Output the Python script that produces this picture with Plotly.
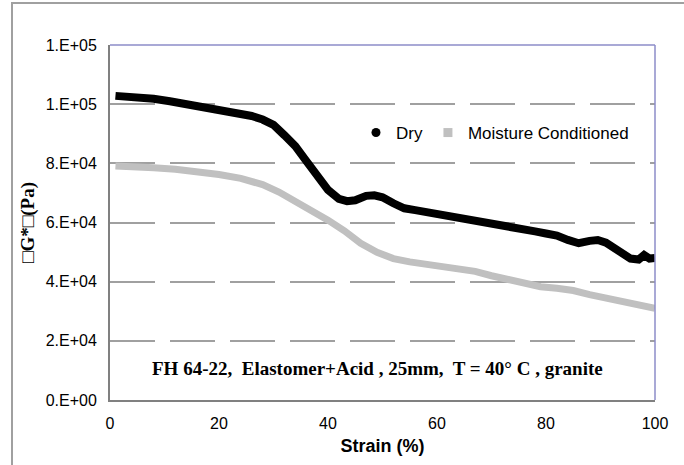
import plotly.graph_objects as go

# ---- data ----
dry_strain = [1, 3, 5, 8, 11, 14, 17, 20, 23, 26, 28, 30, 32, 34, 36, 38, 40, 42, 43.5, 45,
              47, 48.5, 50, 52, 54, 56, 58, 60, 62, 64, 66, 68, 70, 72, 74, 76, 78, 80, 82,
              84, 86, 88, 89.5, 91, 92.5, 94, 95.5, 97, 98, 99, 100]
dry_g = [102800, 102700, 102400, 101800, 101000, 100100, 99200, 98200, 97200, 96000, 94800,
         93000, 89500, 85800, 80800, 75500, 71000, 68000, 67200, 67500, 69000, 69200, 68500,
         66500, 64800, 64200, 63600, 62800, 62000, 61500, 61000, 60500, 59800, 59200, 58500,
         57800, 57000, 56300, 55600, 54100, 53000, 53800, 54100, 53200, 51500, 49200, 47800,
         47500, 49000, 47800, 48000]

mc_strain = [1, 4, 8, 12, 16, 20, 24, 28, 31, 34, 37, 40, 43, 46, 49, 52, 55, 58, 61, 64,
             67, 70, 73, 76, 79, 82, 85, 88, 91, 94, 97, 100]
mc_g = [79100, 79000, 78500, 78000, 77200, 76200, 74900, 72800, 70300, 67300, 64200, 60800,
        57200, 53000, 49900, 47800, 46700, 46000, 45200, 44500, 43500, 42000, 40800, 39500,
        38300, 37800, 37000, 35600, 34300, 33400, 32300, 31000]

y_ticks = [0, 20000, 40000, 60000, 80000, 100000, 120000]
y_tick_labels = ["0.E+00", "2.E+04", "4.E+04", "6.E+04", "8.E+04", "1.E+05", "1.E+05"]
x_ticks = [0, 20, 40, 60, 80, 100]

ARIAL = "Liberation Sans, Arial, sans-serif"
TIMES = "Liberation Serif, Times New Roman, serif"

fig = go.Figure()

fig.add_trace(go.Scatter(x=mc_strain, y=mc_g, mode="lines",
                         line=dict(color="#C0C0C0", width=7), showlegend=False))
fig.add_trace(go.Scatter(x=dry_strain, y=dry_g, mode="lines",
                         line=dict(color="#000000", width=8), showlegend=False))

# legend-only entries
fig.add_trace(go.Scatter(x=[None], y=[None], mode="markers", name="Dry",
                         marker=dict(symbol="circle", size=9, color="#000000")))
fig.add_trace(go.Scatter(x=[None], y=[None], mode="markers", name="Moisture Conditioned",
                         marker=dict(symbol="square", size=9, color="#C0C0C0")))

W, H = 684, 465
L, R, T, B = 110, 29, 45, 65
pw, ph = W - L - R, H - T - B

def px_x(p):
    return (p - L) / pw

def px_y(p):
    return (H - B - p) / ph

fig.update_layout(
    width=W, height=H,
    margin=dict(l=L, r=R, t=T, b=B, autoexpand=False),
    paper_bgcolor="white", plot_bgcolor="white",
    font=dict(family=ARIAL, size=16, color="black"),
    xaxis=dict(range=[0, 100], tickvals=x_ticks, showgrid=False, zeroline=False,
               showline=True, linecolor="#808080", linewidth=2, ticks="",
               ticklabelstandoff=8,
               tickfont=dict(family=ARIAL, size=16, color="black"),
               title=dict(text="<b>Strain (%)</b>", font=dict(family=ARIAL, size=18, color="black"),
                          standoff=8)),
    yaxis=dict(range=[0, 120000], tickvals=y_ticks, ticktext=y_tick_labels,
               showgrid=True, gridcolor="#A0A0A0", gridwidth=1.5, griddash="45px,15px",
               zeroline=False, showline=True, linecolor="#808080", linewidth=2, ticks="",
               ticklabelstandoff=8,
               tickfont=dict(family=ARIAL, size=16, color="black"),
               title=dict(text="<b>□G*□(Pa)</b>", font=dict(family=TIMES, size=19, color="black"),
                          standoff=6)),
    legend=dict(orientation="h", x=px_x(634), xanchor="right", y=px_y(133), yanchor="middle",
                font=dict(family=ARIAL, size=17, color="black"), bgcolor="rgba(0,0,0,0)",
                itemwidth=30, tracegroupgap=0),
    annotations=[dict(text="<b>FH 64-22,  Elastomer+Acid , 25mm,  T = 40° C , granite</b>",
                      xref="paper", yref="paper", x=px_x(377), y=px_y(368),
                      xanchor="center", yanchor="middle", showarrow=False,
                      font=dict(family=TIMES, size=19, color="black"))],
    shapes=[
        # plot area top & right border (bluish)
        dict(type="line", xref="paper", yref="paper", x0=0, x1=1, y0=1, y1=1,
             line=dict(color="#8C8CC8", width=1.5), layer="above"),
        dict(type="line", xref="paper", yref="paper", x0=1, x1=1, y0=0, y1=1,
             line=dict(color="#8C8CC8", width=1.5), layer="above"),
        # outer chart border
        dict(type="rect", xref="paper", yref="paper", x0=px_x(12), x1=px_x(700),
             y0=px_y(480), y1=px_y(3), line=dict(color="#A0A0A0", width=2),
             fillcolor="rgba(0,0,0,0)", layer="above"),
    ],
)

fig.write_html("out.html")
